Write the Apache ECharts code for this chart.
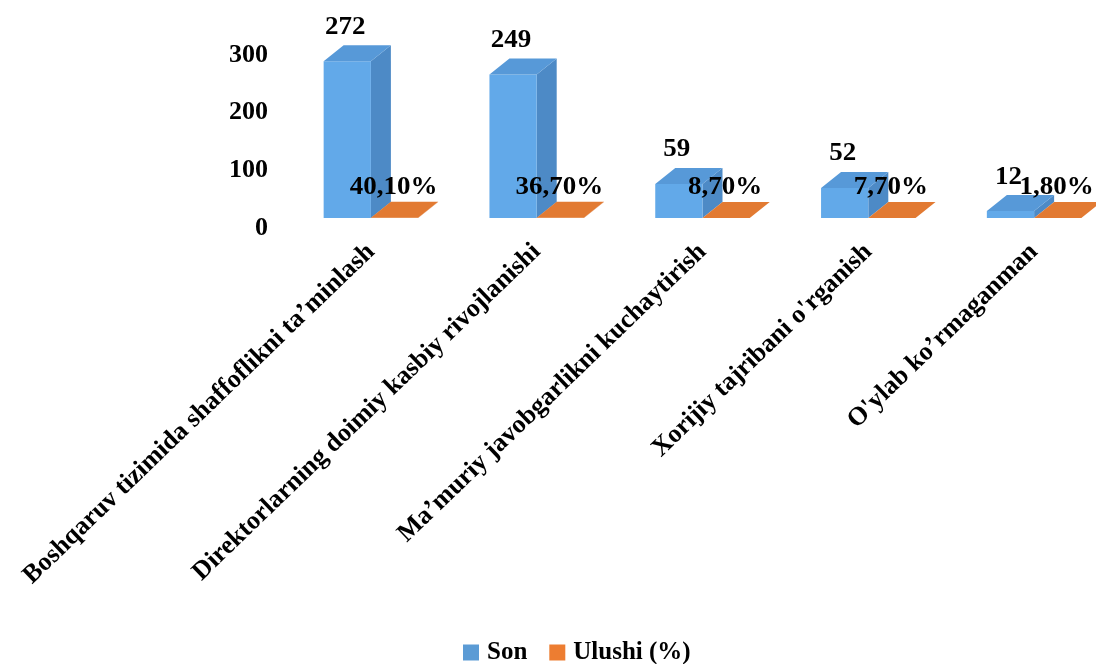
<!DOCTYPE html>
<html>
<head>
<meta charset="utf-8">
<script src="https://cdn.jsdelivr.net/npm/echarts@6/dist/echarts.min.js"></script>
<style>
  html, body { margin: 0; padding: 0; background: #fff; }
  #main { width: 1096px; height: 664px; }
</style>
</head>
<body>
<div id="main"></div>
<script>
var categories = [
  "Boshqaruv tizimida shaffoflikni ta\u2019minlash",
  "Direktorlarning doimiy kasbiy rivojlanishi",
  "Ma\u2019muriy javobgarlikni kuchaytirish",
  "Xorijiy tajribani o'rganish",
  "O'ylab ko\u2019rmaganman"
];
var sonValues = [272, 249, 59, 52, 12];
var ulushiValues = [0.401, 0.367, 0.087, 0.077, 0.018];
var yTicks = [0, 100, 200, 300];

var FONT = "Liberation Serif";
var DX = 20, DY = -16; // depth of the 3d look

function fmtPct(v) {
  return (v * 100).toFixed(2).replace(".", ",") + "%";
}

function makeRender(slot, colors, labelFn) {
  return function (params, api) {
    var i = api.value(0), v = api.value(1);
    var base = api.coord([i, 0]);
    var top = api.coord([i, v]);
    var bw = api.size([1, 0])[0] * 0.285;
    var x0 = slot === 0 ? base[0] - bw : base[0];
    var x1 = x0 + bw;
    var children = [
      { type: "polygon", shape: { points: [[x1, base[1]], [x1 + DX, base[1] + DY], [x1 + DX, top[1] + DY], [x1, top[1]]] },
        style: { fill: colors.side } },
      { type: "rect", shape: { x: x0, y: top[1], width: bw, height: base[1] - top[1] },
        style: { fill: colors.front } },
      { type: "polygon", shape: { points: [[x0, top[1]], [x0 + DX, top[1] + DY], [x1 + DX, top[1] + DY], [x1, top[1]]] },
        style: { fill: colors.top } }
    ];
    var lp = labelFn(x0, x1, base, top, v);
    children.push({
      type: "text", z2: 10,
      x: lp.x, y: lp.y, scaleX: 1.08,
      style: { text: lp.text, x: 0, y: 0, align: "center", verticalAlign: "middle",
        font: "bold 25px '" + FONT + "'", fill: "#000" }
    });
    return { type: "group", children: children };
  };
}

var chart = echarts.init(document.getElementById("main"));
chart.setOption({
  animation: false,
  textStyle: { fontFamily: FONT },
  legend: {
    top: 635,
    left: 458,
    icon: "rect",
    itemWidth: 16,
    itemHeight: 16,
    itemGap: 22,
    textStyle: { fontFamily: FONT, fontWeight: "bold", fontSize: 25, color: "#000", padding: [0, 0, 0, 3] },
    data: ["Son", "Ulushi (%)"]
  },
  grid: [
    { left: 288, right: -21, top: 45, bottom: 446, outerBoundsMode: "none" },
    { left: 288, right: -21, top: 55, bottom: 436, outerBoundsMode: "none" }
  ],
  xAxis: [
    {
      type: "category", gridIndex: 0, data: categories,
      axisLine: { show: false }, axisTick: { show: false },
      axisLabel: {
        interval: 0, rotate: 44, margin: 30,
        fontFamily: FONT, fontWeight: "bold", fontSize: 26, color: "#000"
      }
    },
    { type: "value", gridIndex: 1, show: false, min: 0, max: 1 }
  ],
  yAxis: [
    { type: "value", gridIndex: 0, min: 0, max: 300, interval: 100, show: false },
    {
      type: "value", gridIndex: 1, min: yTicks[0], max: yTicks[yTicks.length - 1], interval: 100,
      axisLine: { show: false }, axisTick: { show: false }, splitLine: { show: false },
      axisLabel: { margin: 20, fontFamily: FONT, fontWeight: "bold", fontSize: 26, color: "#000" }
    }
  ],
  series: [
    {
      name: "Son", type: "custom", xAxisIndex: 0, yAxisIndex: 0,
      itemStyle: { color: "#5b9bd5" },
      data: sonValues.map(function (v, i) { return [i, v]; }),
      renderItem: makeRender(0, { front: "#62a9e9", side: "#4d8ac6", top: "#5799d8" },
        function (x0, x1, base, top, v) {
          return { text: String(v), x: (x0 + x1) / 2 - 2, y: top[1] + DY - 18 };
        })
    },
    {
      name: "Ulushi (%)", type: "custom", xAxisIndex: 0, yAxisIndex: 0,
      itemStyle: { color: "#ed7d31" },
      data: ulushiValues.map(function (v, i) { return [i, v]; }),
      renderItem: makeRender(1, { front: "#d86f2a", side: "#c9692b", top: "#e27a32" },
        function (x0, x1, base, top, v) {
          return { text: fmtPct(v), x: (x0 + x1) / 2 - 1, y: base[1] - 30 };
        })
    }
  ]
});
</script>
</body>
</html>
